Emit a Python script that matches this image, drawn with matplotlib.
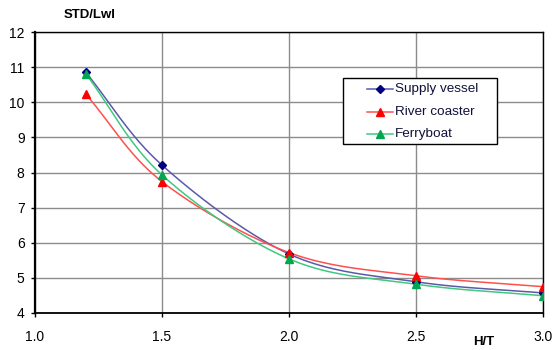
import numpy as np
import matplotlib
matplotlib.use("Agg")
import matplotlib.pyplot as plt
from matplotlib.patches import Rectangle
from matplotlib.lines import Line2D

plt.rcParams['font.family'] = ['Liberation Sans', 'DejaVu Sans']

# Ratio H/T and the resulting STD/Lwl for each vessel type
h_t = [1.2, 1.5, 2.0, 2.5, 3.0]
supply_vessel = [10.85, 8.21, 5.68, 4.89, 4.57]
river_coaster = [10.23, 7.74, 5.72, 5.06, 4.75]
ferryboat = [10.81, 7.93, 5.54, 4.82, 4.49]

x_ticks = [1.0, 1.5, 2.0, 2.5, 3.0]
y_ticks = [4, 5, 6, 7, 8, 9, 10, 11, 12]

W, H = 552, 350
fig = plt.figure(figsize=(W / 100, H / 100), dpi=100)
ax = fig.add_axes([35 / W, 1 - 313 / H, 508 / W, 281 / H])
ax.set_xlim(1.0, 3.0)
ax.set_ylim(4, 12)


def smooth(xs, ys, n=40):
    """Catmull-Rom curve through the points, computed in display space."""
    pts = ax.transData.transform(np.column_stack([xs, ys]))
    p = np.vstack([pts[0] - (pts[1] - pts[0]), pts, pts[-1] + (pts[-1] - pts[-2])])
    out = []
    t = np.linspace(0, 1, n)[:, None]
    for i in range(1, len(p) - 2):
        p0, p1, p2, p3 = p[i - 1], p[i], p[i + 1], p[i + 2]
        seg = 0.5 * ((2 * p1) + (-p0 + p2) * t + (2 * p0 - 5 * p1 + 4 * p2 - p3) * t ** 2
                     + (-p0 + 3 * p1 - 3 * p2 + p3) * t ** 3)
        out.append(seg if i == 1 else seg[1:])
    curve = ax.transData.inverted().transform(np.vstack(out))
    return curve[:, 0], curve[:, 1]


series = [
    ("Supply vessel", supply_vessel, "#000080", "#5a5aa8", "D", 4.5),
    ("River coaster", river_coaster, "#ff0000", "#ff5050", "^", 6),
    ("Ferryboat", ferryboat, "#00a650", "#40c880", "^", 6),
]

for name, ys, mcol, lcol, mk, ms in series:
    sx, sy = smooth(h_t, ys)
    ax.plot(sx, sy, color=lcol, lw=1.1, zorder=3)
    ax.plot(h_t, ys, linestyle="none", marker=mk, ms=ms, color=mcol, zorder=4)

ax.set_xticks(x_ticks)
ax.set_xticklabels([f"{v:.1f}" for v in x_ticks])
ax.set_yticks(y_ticks)
ax.grid(True, color="#8c8c8c", lw=1.0)
ax.set_axisbelow(True)
for s in ax.spines.values():
    s.set_color("black")
    s.set_linewidth(1.0)
ax.spines["left"].set_linewidth(1.6)
ax.spines["bottom"].set_linewidth(1.3)
ax.tick_params(axis="both", direction="out", length=3, width=1, labelsize=10,
               colors="black")
ax.tick_params(axis="y", pad=4.5)
ax.tick_params(axis="x", pad=9)

fig.text(64 / W, 1 - 15 / H, "STD/Lwl", fontsize=9.5, fontweight="bold",
         ha="left", va="center")
fig.text(484 / W, 1 - 342 / H, "H/T", fontsize=9.5, fontweight="bold",
         ha="center", va="center")

# Legend box drawn in figure pixels
box_l, box_t, box_r, box_b = 343, 78, 497, 144
fig.patches.append(Rectangle((box_l / W, 1 - box_b / H), (box_r - box_l) / W,
                             (box_b - box_t) / H, transform=fig.transFigure,
                             facecolor="white", edgecolor="black", lw=1.0,
                             zorder=5))
row_y = [89, 112, 134]
for (name, ys, mcol, lcol, mk, ms), ry in zip(series, row_y):
    yy = 1 - ry / H
    fig.lines.append(Line2D([367 / W, 393 / W], [yy, yy], transform=fig.transFigure,
                            color=lcol, lw=1.1, zorder=6))
    fig.lines.append(Line2D([380 / W], [yy], transform=fig.transFigure,
                            marker=mk, ms=ms - 0.5, color=mcol, zorder=7))
    fig.text(395 / W, yy, name, fontsize=9.7, color="#10103a", ha="left",
             va="center", zorder=7)

fig.savefig("out.png", dpi=100)
